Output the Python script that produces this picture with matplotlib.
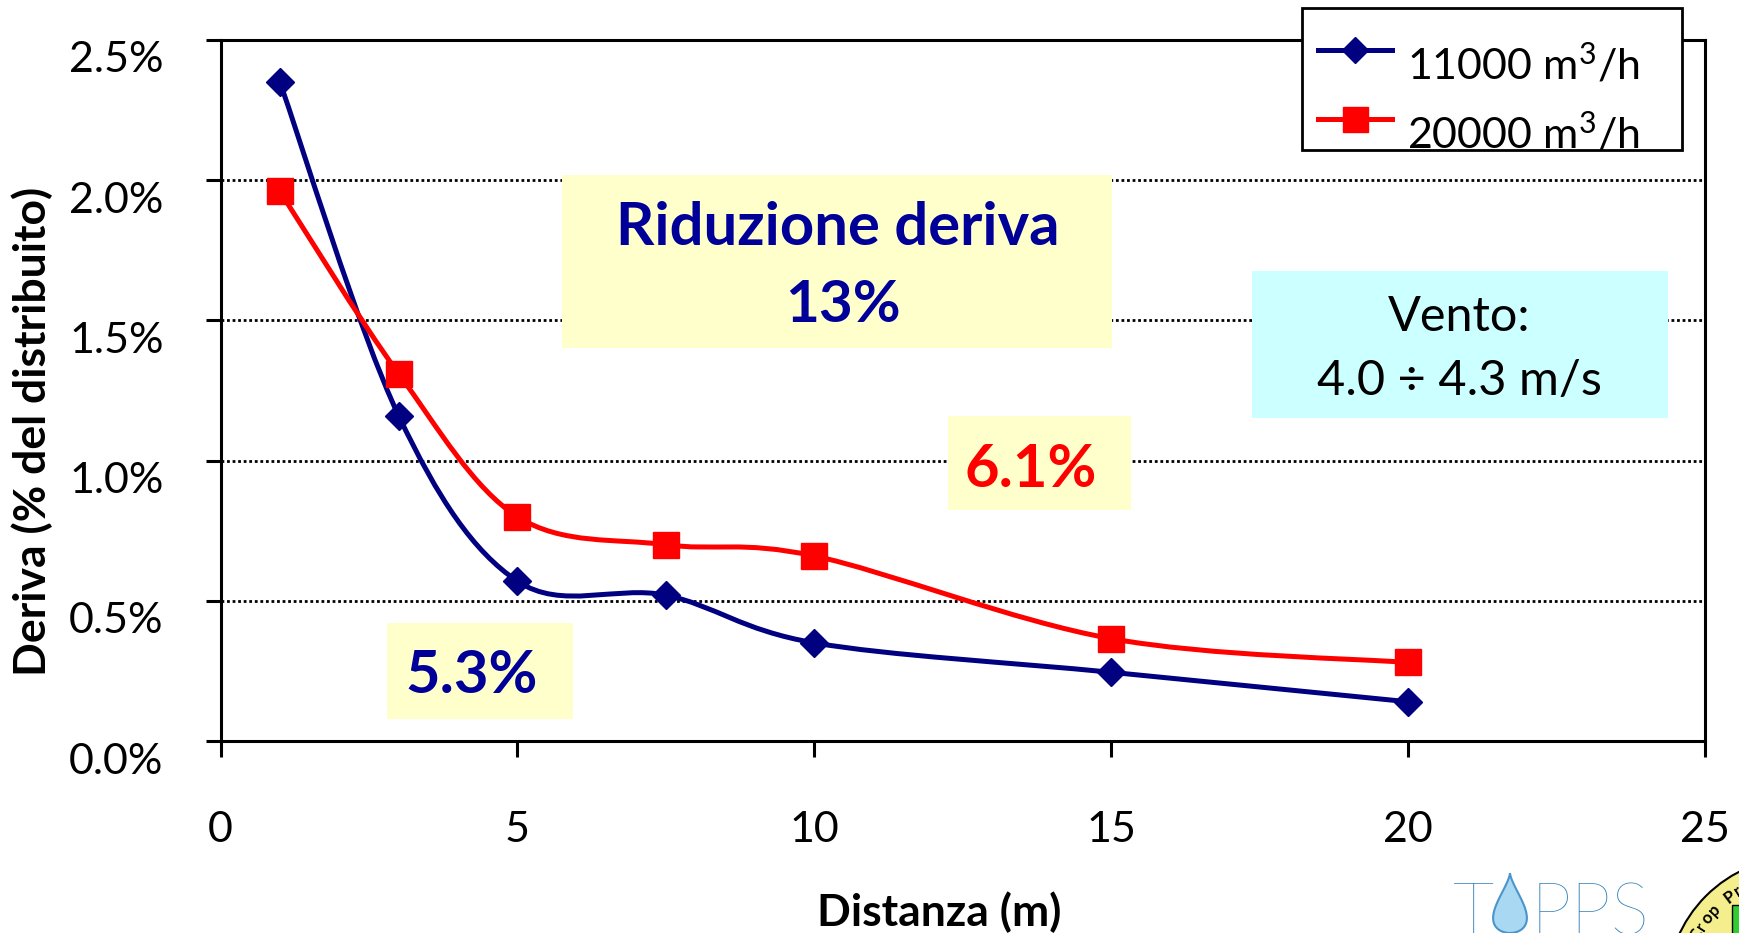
import numpy as np
import matplotlib
matplotlib.use("Agg")
import matplotlib.pyplot as plt
from matplotlib.path import Path
from matplotlib.patches import PathPatch, Rectangle, Polygon, Ellipse
from matplotlib.lines import Line2D
from matplotlib import transforms

plt.rcParams["font.family"] = ["Lato", "DejaVu Sans"]
plt.rcParams["mathtext.fontset"] = "custom"
plt.rcParams["mathtext.rm"] = "Lato"
plt.rcParams["mathtext.it"] = "Lato:italic"
plt.rcParams["mathtext.bf"] = "Lato:bold"

# distance from the sprayer (m) and drift deposits (% of sprayed volume)
distanza = [1, 3, 5, 7.5, 10, 15, 20]
deriva_11000 = [2.35, 1.16, 0.57, 0.52, 0.35, 0.245, 0.14]
deriva_20000 = [1.96, 1.31, 0.80, 0.70, 0.66, 0.365, 0.28]
serie_labels = [r"11000 m$^{3}$/h", r"20000 m$^{3}$/h"]

x_ticks = [0, 5, 10, 15, 20, 25]
y_ticks = [0.0, 0.5, 1.0, 1.5, 2.0, 2.5]

W, H = 1739, 933
fig = plt.figure(figsize=(W / 100, H / 100), dpi=100)
ax = fig.add_axes([220.5 / W, 1 - 741 / H, (1705 - 220.5) / W, (741 - 40) / H])

NAVY = "#000080"
RED = "#FF0000"
TXT_BLUE = "#000099"


def smooth_path(xs, ys):
    """Catmull-Rom style Bezier path through the points (spreadsheet 'smoothed line')."""
    pts = np.column_stack([xs, ys]).astype(float)
    n = len(pts)
    verts = [pts[0]]
    codes = [Path.MOVETO]
    for i in range(n - 1):
        p0 = pts[i - 1] if i > 0 else pts[i]
        p1 = pts[i]
        p2 = pts[i + 1]
        p3 = pts[i + 2] if i + 2 < n else pts[i + 1]
        c1 = p1 + (p2 - p0) / 6.0
        c2 = p2 - (p3 - p1) / 6.0
        verts += [c1, c2, p2]
        codes += [Path.CURVE4] * 3
    return Path(verts, codes)


series = [(deriva_11000, NAVY, "D", 14.5), (deriva_20000, RED, "s", 19)]
for ys, col, mk, ms in series:
    ax.add_patch(PathPatch(smooth_path(distanza, ys), fill=False, edgecolor=col,
                           lw=3.6, zorder=3, capstyle="round", joinstyle="round"))
    ax.plot(distanza, ys, linestyle="none", marker=mk, ms=ms, color=col, zorder=4)

ax.set_xlim(0, 25)
ax.set_ylim(0, 2.5)
ax.set_xticks(x_ticks)
ax.set_yticks(y_ticks)
ax.set_xticklabels([str(v) for v in x_ticks])
ax.set_yticklabels([f"{v:.1f}%" for v in y_ticks])
ax.tick_params(axis="both", direction="out", width=2.2, color="black", labelsize=31)
ax.tick_params(axis="x", length=11.5, pad=39)
ax.tick_params(axis="y", length=11, pad=30)
for lab in ax.get_yticklabels():
    lab.set_transform(lab.get_transform() + transforms.ScaledTranslation(0, -17 / 100, fig.dpi_scale_trans))

for sp in ax.spines.values():
    sp.set_linewidth(2.2)
    sp.set_color("black")

ax.set_axisbelow(True)
ax.yaxis.grid(True, color="black", linestyle=(0, (1, 1)), linewidth=2.0)

ax.set_xlabel("Distanza (m)", fontsize=32, fontweight="bold", va="center")
ax.xaxis.set_label_coords((939 - 220.5) / 1484.5, (741 - 912) / 701)
ax.set_ylabel("Deriva (% del distribuito)", fontsize=32, fontweight="bold", va="center")
ax.yaxis.set_label_coords((32 - 220.5) / 1484.5, (741 - 431) / 701)


def ax_xy(px, py):
    return (px - 220.5) / 1484.5, (741 - py) / 701


def box(x0, y0, x1, y1, color):
    ax0, ay1 = ax_xy(x0, y0)
    ax1, ay0 = ax_xy(x1, y1)
    ax.add_patch(Rectangle((ax0, ay0), ax1 - ax0, ay1 - ay0, transform=ax.transAxes,
                           facecolor=color, edgecolor="none", zorder=1.5))


def label(px, py, s, **kw):
    tx, ty = ax_xy(px, py)
    ax.text(tx, ty, s, transform=ax.transAxes, ha="center", va="baseline", zorder=5, **kw)


# annotation boxes
box(562, 175, 1112, 348, "#FFFFCC")
label(838, 245, "Riduzione deriva", fontsize=43, fontweight="bold", color=TXT_BLUE)
label(843, 322, "13%", fontsize=42, fontweight="bold", color=TXT_BLUE)

box(1252, 271, 1668, 418, "#CCFFFF")
label(1459, 331, "Vento:", fontsize=35, color="black")
label(1459, 395, "4.0 ÷ 4.3 m/s", fontsize=35, color="black")

box(387, 623, 573, 719, "#FFFFCC")
label(472, 693, "5.3%", fontsize=43, fontweight="bold", color=TXT_BLUE)

box(948, 416, 1131, 510, "#FFFFCC")
label(1031, 487, "6.1%", fontsize=43, fontweight="bold", color=RED)


# legend (frame, sample lines and labels placed in figure pixels)
def fxy(px, py):
    return px / W, 1 - py / H


fig.patches.append(Rectangle(fxy(1302, 150), 380 / W, 142 / H, transform=fig.transFigure,
                             facecolor="white", edgecolor="black", lw=2.0, zorder=5))
for (ys, col, mk, ms), lab, hy, ty in zip(series, serie_labels, [50, 119], [79, 148]):
    (x0, y0), (x1, _) = fxy(1318, hy), fxy(1392, hy)
    fig.add_artist(Line2D([x0, x1], [y0, y0], transform=fig.transFigure, color=col,
                          lw=3.6, zorder=6))
    fig.add_artist(Line2D([(x0 + x1) / 2], [y0], transform=fig.transFigure, color=col,
                          marker=mk, ms=ms - 1, linestyle="none", zorder=6))
    fig.text(*fxy(1407, ty), lab, fontsize=31, color="black", ha="left", va="baseline",
             zorder=6)

# logos in the lower right corner
fig.text(*fxy(1453, 934), "T", fontsize=52, color="#2F7FB6", fontweight="light",
         ha="left", va="baseline")
fig.text(*fxy(1531, 934), "PPS", fontsize=52, color="#2F7FB6", fontweight="light",
         ha="left", va="baseline")
t = np.linspace(0, 2 * np.pi, 100)
drop_x = 1510 + 26 * np.sin(t) * (1 - np.cos(t)) / 2
drop_y = 873 + 30 * (1 - np.cos(t))
fig.patches.append(Polygon([fxy(a, b) for a, b in zip(drop_x, drop_y)], closed=True,
                           transform=fig.transFigure, facecolor="#A8D8F2",
                           edgecolor="#4A95CC", lw=1.5))

cx, cy = 1800, 990
fig.patches.append(Ellipse(fxy(cx, cy), 2 * 133 / W, 2 * 133 / H, transform=fig.transFigure,
                           facecolor="#F4EF8C", edgecolor="black", lw=1.5))
fig.patches.append(Rectangle(fxy(1732, 940), 20 / W, 35 / H, transform=fig.transFigure,
                             facecolor="#33CC33", edgecolor="black", lw=1))
for i, ch in enumerate("Crop Prot"):
    ang = np.deg2rad(152 - i * 5.0)
    px = cx + 117 * np.cos(ang)
    py = cy - 117 * np.sin(ang)
    fig.text(*fxy(px, py), ch, fontsize=12, fontweight="bold", color="black",
             rotation=np.rad2deg(ang) - 90, ha="center", va="center")

fig.savefig("out.png", dpi=100)
